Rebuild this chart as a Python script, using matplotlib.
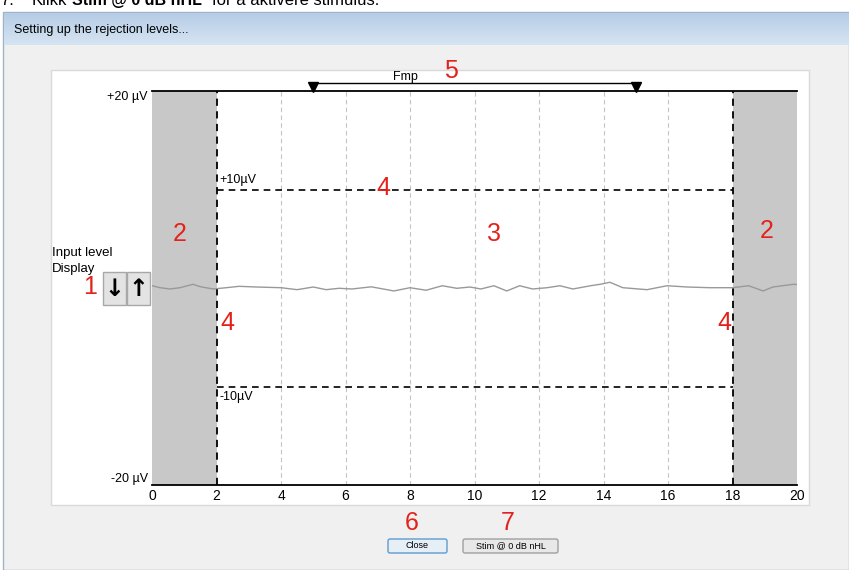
import matplotlib.pyplot as plt
import numpy as np
from matplotlib.patches import Rectangle, FancyBboxPatch
from matplotlib.colors import LinearSegmentedColormap

plt.rcParams['font.family'] = ['Liberation Sans', 'DejaVu Sans']

W, H = 849, 570  # bildestørrelse i piksler

# --- data ---
x_ticks = [0, 2, 4, 6, 8, 10, 12, 14, 16, 18, 20]
x_ticklabels = [str(v) for v in x_ticks]
y_ticks = [20, -20]
y_ticklabels = ['+20 µV', '-20 µV']
grid_x = [4, 6, 8, 10, 12, 14, 16, 20]
artifact_zones = [(0, 2), (18, 20)]
window_edges = [2, 18]
rejection_levels = [10, -10]
rejection_labels = ['+10µV', '-10µV']
fmp_window = [5, 15]

# input level trace (ms, µV), lest av bildet
trace_t = [0.0, 0.25, 0.56, 0.87, 1.27, 1.5, 1.9, 2.3, 2.7, 3.25, 4.0, 4.5, 5.0,
           5.4, 5.8, 6.2, 6.8, 7.5, 8.0, 8.5, 9.0, 9.45, 9.86, 10.2, 10.6, 11.0,
           11.4, 11.8, 12.25, 12.65, 13.05, 13.6, 13.9, 14.2, 14.6, 15.35, 15.97,
           16.6, 17.3, 18.0, 18.5, 18.95, 19.25, 19.9, 20.0]
trace_uv = [0.23, 0.03, -0.10, 0.03, 0.38, 0.13, -0.10, 0.03, 0.17, 0.10, 0.03,
            -0.17, 0.10, -0.17, -0.03, -0.10, 0.12, -0.30, 0.03, -0.23, 0.23,
            -0.03, 0.10, -0.10, 0.23, -0.30, 0.23, -0.10, 0.03, 0.23, -0.10,
            0.23, 0.38, 0.58, 0.03, -0.17, 0.23, 0.10, 0.03, 0.03, 0.23, -0.30,
            0.10, 0.38, 0.35]

# røde nummer i skjermbildet
callouts = ['1', '2', '2', '3', '4', '4', '4', '5', '6', '7']
callout_px = [(90, 287), (180, 234), (767, 231), (494, 234), (383, 188),
              (227, 323), (724, 323), (451, 71), (412, 523), (508, 523)]


def px(x, y):
    return x / W, 1 - y / H


fig = plt.figure(figsize=(W / 100, H / 100), dpi=100, facecolor='white')

# bakgrunn: dialogvindu
bg = fig.add_axes([0, 0, 1, 1], zorder=0)
bg.axis('off')
bg.add_patch(Rectangle((3, 12), W - 3, H - 12, facecolor='#f0f0f0',
                       edgecolor='#9fb3c8', lw=1, zorder=1))
cmap = LinearSegmentedColormap.from_list('title', ['#b6cde6', '#d6e4f2'])
bg.imshow(np.linspace(0, 1, 50)[:, None], extent=[4, W, 45, 13], cmap=cmap,
          aspect='auto', zorder=2)
bg.set_xlim(0, W)
bg.set_ylim(H, 0)
bg.text(14, 30, 'Setting up the rejection levels...', fontsize=9, va='center',
        zorder=3)

# avkuttet instruksjon øverst
bg.text(0, 5, '7.', fontsize=12)
bg.text(32, 5, 'Klikk', fontsize=12)
bg.text(72, 5, 'Stim @ 0 dB nHL', fontsize=11.5, fontweight='bold')
bg.text(212, 5, 'for å aktivere stimulus.', fontsize=12)

# hvitt panel
bg.add_patch(Rectangle((51, 70), 758, 435, facecolor='white',
                       edgecolor='#dadada', lw=1, zorder=2))
bg.text(52, 253, 'Input level', fontsize=9.5, va='center', zorder=3)
bg.text(52, 269, 'Display', fontsize=9.5, va='center', zorder=3)

# pil-knapper
for x0, arrow in [(103, '↓'), (127, '↑')]:
    bg.add_patch(Rectangle((x0, 272), 23, 33, facecolor='#e3e3e3',
                           edgecolor='#a8a8a8', lw=1, zorder=3))
    bg.text(x0 + 11.5, 289, arrow, fontsize=17, fontweight='bold',
            family='DejaVu Sans', ha='center', va='center', zorder=4)

# knapper nederst
bg.add_patch(FancyBboxPatch((388, 539), 59, 14, boxstyle='round,pad=0,rounding_size=2',
                            facecolor='#e6eef6', edgecolor='#5e9ccf', lw=1, zorder=3))
bg.text(417.5, 546, 'Close', fontsize=6.5, ha='center', va='center', zorder=4)
bg.add_patch(FancyBboxPatch((463, 539), 95, 14, boxstyle='round,pad=0,rounding_size=2',
                            facecolor='#e8e8e8', edgecolor='#a0a0a0', lw=1, zorder=3))
bg.text(510.5, 546, 'Stim @ 0 dB nHL', fontsize=6.5, ha='center', va='center',
        zorder=4)

# --- hoveddiagram ---
ax = fig.add_axes([152 / W, (H - 485) / H, 645 / W, 394 / H], zorder=1)
ax.patch.set_alpha(0)
ax.set_xlim(0, 20)
ax.set_ylim(-20, 20)

for a, b in artifact_zones:
    ax.axvspan(a, b, color='#c8c8c8', lw=0)

ax.vlines(grid_x, -20, 20, colors='#c4c4c4', linestyles=(0, (4, 3)), lw=0.8)
ax.vlines(window_edges, -20, 20, colors='black', linestyles=(0, (4, 3)), lw=1.3)
ax.hlines(rejection_levels, window_edges[0], window_edges[1], colors='black',
          linestyles=(0, (4, 3)), lw=1.2)
ax.text(2.1, 10.4, rejection_labels[0], fontsize=9, va='bottom')
ax.text(2.1, -10.5, rejection_labels[1], fontsize=9, va='top')

ax.plot(trace_t, trace_uv, color='#999999', lw=1)

# Fmp-vindu
ax.plot(fmp_window, [20.8, 20.8], color='black', lw=1, clip_on=False)
ax.plot(fmp_window, [20.45, 20.45], 'v', color='black', ms=7, clip_on=False)
ax.text(7.85, 21.45, 'Fmp', fontsize=9, ha='center', va='center')

for side in ['left', 'right']:
    ax.spines[side].set_visible(False)
for side in ['top', 'bottom']:
    ax.spines[side].set_linewidth(1.3)

ax.set_xticks(x_ticks, x_ticklabels)
ax.set_yticks(y_ticks, y_ticklabels)
ax.tick_params(length=0, labelsize=10, pad=3)
ax.tick_params(axis='y', labelsize=9, pad=3)
for lab, va in zip(ax.get_yticklabels(), ['top', 'bottom']):
    lab.set_va(va)

for s, (x, y) in zip(callouts, callout_px):
    fx, fy = px(x, y)
    fig.text(fx, fy, s, color='#e3221c', fontsize=18, ha='center', va='center',
             zorder=5)

fig.savefig('out.png', dpi=100)
